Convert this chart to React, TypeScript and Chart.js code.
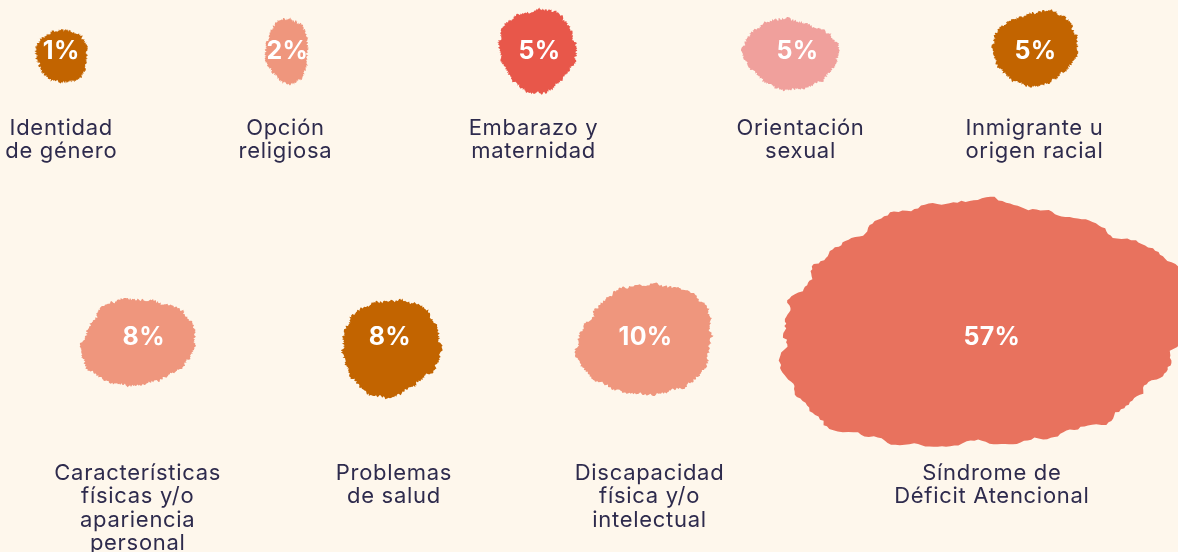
import React, { useEffect, useRef } from "react";
import { Chart, registerables } from "chart.js";

Chart.register(...registerables);

// ---------- DATA ----------
const categories: string[][] = [
  ["Identidad", "de género"],
  ["Opción", "religiosa"],
  ["Embarazo y", "maternidad"],
  ["Orientación", "sexual"],
  ["Inmigrante u", "origen racial"],
  ["Características", "físicas y/o", "apariencia", "personal"],
  ["Problemas", "de salud"],
  ["Discapacidad", "física y/o", "intelectual"],
  ["Síndrome de", "Déficit Atencional"],
];
const percentages = [1, 2, 5, 5, 5, 8, 8, 10, 57];
const valueLabels = percentages.map((v) => `${v}%`);

// ---------- LAYOUT (scale units: x in % of width, y in rows) ----------
const slotX = [5.2, 24.4, 45.8, 67.7, 87.9, 12.2, 33.1, 54.8, 84.2];
const slotRow = [0, 0, 0, 0, 0, 1, 1, 1, 1];

// ---------- STYLE ----------
const BG = "#FEF7EC";
const TEXT = "#2E2B4D";
const blobColors = [
  "#C26400", "#EF967D", "#E8574A", "#F0A09C", "#C26400",
  "#EF967D", "#C26400", "#EF967D", "#E8725E",
];
const blobStretch = [
  [1.04, 0.98], [0.85, 1.2], [1, 1], [1.15, 0.9], [1.08, 0.92],
  [1.08, 0.85], [0.98, 0.9], [1.16, 0.94], [1.3, 0.78],
];
const blobShift = [
  [1, 6], [0, 1], [-2, 0], [-7, 4], [0, -2],
  [-6, 6], [1, 11], [1, 4], [-10, -10],
];
const labelDx = [0, -2, -6, 3, -1, -6, 4, 4, 0];
const labelOffsetByRow = [78, 137];
const lineHeight = 23.5;

const blobRadius = (v: number) => Math.max(26, 16 * Math.pow(v, 0.565));

function hash(i: number, s: number) {
  const x = Math.sin(i * 127.1 + s * 311.7) * 43758.5453;
  return x - Math.floor(x);
}

function drawBlob(
  ctx: CanvasRenderingContext2D,
  cx: number,
  cy: number,
  rx: number,
  ry: number,
  seed: number,
  color: string
) {
  const N = 320;
  ctx.beginPath();
  for (let i = 0; i < N; i++) {
    const t = (i / N) * Math.PI * 2;
    let f = 1;
    for (let k = 2; k <= 5; k++) {
      f += (0.09 / k) * Math.sin(k * t + hash(k, seed) * 6.283);
    }
    f += 0.014 * Math.sin(13 * t + seed) + 0.012 * Math.sin(23 * t + seed * 2) + 0.008 * Math.sin(41 * t + seed * 3);
    const j = (hash(i, seed + 3) - 0.5) * 2.6;
    const x = cx + Math.cos(t) * (rx * f + j);
    const y = cy + Math.sin(t) * (ry * f + j);
    if (i === 0) ctx.moveTo(x, y);
    else ctx.lineTo(x, y);
  }
  ctx.closePath();
  ctx.fillStyle = color;
  ctx.fill();
}

const blobPlugin = {
  id: "blobPlugin",
  beforeDraw(chart: any) {
    const ctx = chart.ctx;
    ctx.save();
    ctx.fillStyle = BG;
    ctx.fillRect(0, 0, chart.width, chart.height);
    ctx.restore();
  },
  afterDatasetsDraw(chart: any) {
    const ctx: CanvasRenderingContext2D = chart.ctx;
    const meta = chart.getDatasetMeta(0);
    ctx.save();
    meta.data.forEach((el: any, i: number) => {
      const r = el.options.radius;
      const [sx, sy] = blobStretch[i];
      const [dx, dy] = blobShift[i];
      drawBlob(ctx, el.x + dx, el.y + dy, r * sx, r * sy, i + 1, blobColors[i]);
    });
    // percentages
    ctx.fillStyle = "#FFFFFF";
    ctx.textAlign = "center";
    ctx.textBaseline = "middle";
    ctx.font = "700 25px Inter";
    (ctx as any).letterSpacing = "0.3px";
    meta.data.forEach((el: any, i: number) => {
      ctx.fillText(valueLabels[i], el.x, el.y + 1);
    });
    // category labels
    ctx.fillStyle = TEXT;
    ctx.font = "400 22px Inter";
    (ctx as any).letterSpacing = "0.7px";
    meta.data.forEach((el: any, i: number) => {
      const base = el.y + labelOffsetByRow[slotRow[i]];
      categories[i].forEach((line, li) => {
        ctx.fillText(line, el.x + labelDx[i], base + li * lineHeight);
      });
    });
    ctx.restore();
  },
};

export default function App() {
  const canvasRef = useRef<HTMLCanvasElement | null>(null);

  useEffect(() => {
    document.body.style.margin = "0";
    document.body.style.background = BG;
    const canvas = canvasRef.current;
    if (!canvas) return;
    const chart = new Chart(canvas, {
      type: "bubble",
      data: {
        labels: categories.map((c) => c.join(" ")),
        datasets: [
          {
            data: percentages.map((v, i) => ({
              x: slotX[i],
              y: slotRow[i],
              r: blobRadius(v),
            })),
            backgroundColor: "rgba(0,0,0,0)",
            borderWidth: 0,
            hoverRadius: 0,
            clip: false as any,
          },
        ],
      },
      options: {
        animation: false,
        responsive: true,
        maintainAspectRatio: false,
        events: [],
        layout: { padding: 0, autoPadding: false } as any,
        plugins: {
          legend: { display: false },
          tooltip: { enabled: false },
        },
        scales: {
          x: { type: "linear", min: 0, max: 100, display: false },
          y: {
            type: "linear",
            min: -0.1748,
            max: 1.755,
            reverse: true,
            display: false,
          },
        },
      },
      plugins: [blobPlugin],
    });
    return () => chart.destroy();
  }, []);

  return (
    <div style={{ position: "relative", width: 1178, height: 552, background: BG }}>
      <canvas ref={canvasRef} />
    </div>
  );
}
